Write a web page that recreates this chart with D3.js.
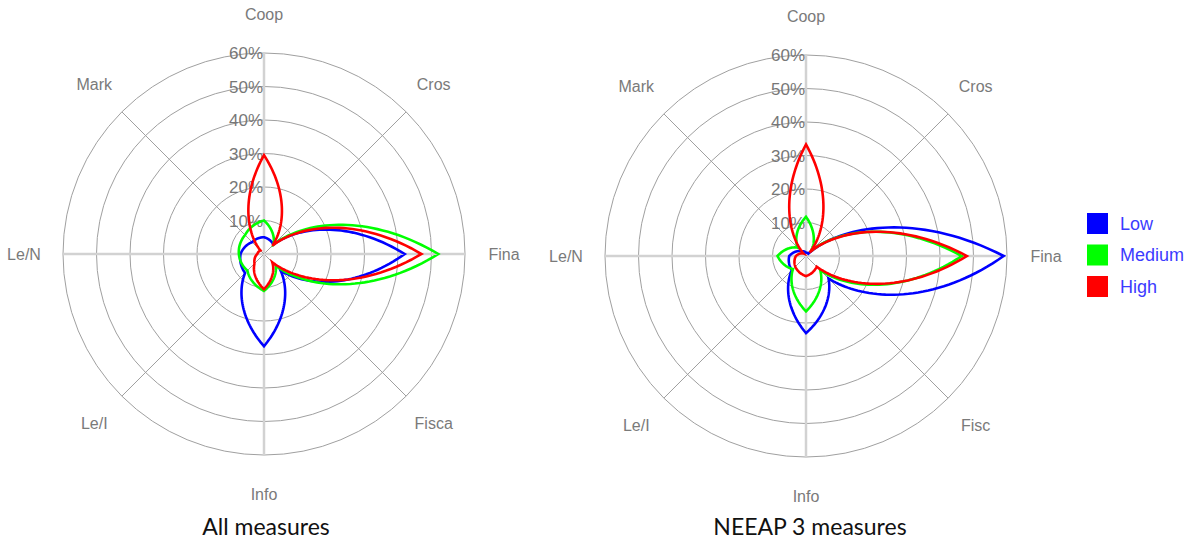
<!DOCTYPE html>
<html>
<head>
<meta charset="utf-8">
<script src="https://cdn.jsdelivr.net/npm/d3@7"></script>
<style>
  html, body { margin: 0; padding: 0; background: #ffffff; }
  svg { display: block; }
</style>
</head>
<body>
<svg id="chart" width="1188" height="545"></svg>
<script>
// ---------------- data ----------------
const categoriesAll = ["Coop", "Cros", "Fina", "Fisca", "Info", "Le/I", "Le/N", "Mark"];
const categoriesNeeap = ["Coop", "Cros", "Fina", "Fisc", "Info", "Le/I", "Le/N", "Mark"];
const tickValues = [10, 20, 30, 40, 50, 60];
const tickLabels = ["10%", "20%", "30%", "40%", "50%", "60%"];
const seriesNames = ["Low", "Medium", "High"];
const seriesColors = ["#0000ff", "#00ff00", "#ff0000"];

// All measures (% per category)
const allLow    = [5, 4, 42, 7, 27.5, 8, 7, 5];
const allMedium = [10, 4, 52, 5, 11, 7, 7.5, 8];
const allHigh   = [29.5, 3.5, 47, 3.5, 10.5, 4, 2, 1.5];

// NEEAP 3 measures (% per category)
const neeapLow    = [1, 1, 59, 9.5, 23, 6, 5, 2];
const neeapMedium = [11.7, 2, 46.5, 6, 16.5, 5.5, 8.5, 3.5];
const neeapHigh   = [33.3, 1.5, 48, 4.5, 6, 4.5, 3, 1];

const titleAll = "All measures";
const titleNeeap = "NEEAP 3 measures";

// ---------------- drawing ----------------
const svg = d3.select("#chart");
const R = 201;
const rScale = d3.scaleLinear().domain([0, 60]).range([0, R]);

// petal-shaped radial curve: sharp tips at each category, power-mean blend between them
function petalCurve(values) {
  const n = values.length, q = 0.6, steps = 40;
  const aScale = d3.scaleLinear().domain([0, n]).range([0, 2 * Math.PI]);
  const pts = [];
  for (let i = 0; i < n; i++) {
    const a = Math.pow(values[i], q), b = Math.pow(values[(i + 1) % n], q);
    for (let s = 0; s < steps; s++) {
      const t = s / steps;
      pts.push([aScale(i + t), Math.pow((1 - t) * a + t * b, 1 / q)]);
    }
  }
  return pts;
}

const line = d3.lineRadial()
  .angle(d => d[0])
  .radius(d => rScale(d[1]))
  .curve(d3.curveLinearClosed);

function drawRadar(cx, cy, categories, seriesList, title, titleX) {
  const g = svg.append("g").attr("transform", `translate(${cx},${cy})`);
  const angle = d3.scalePoint().domain(categories.concat(["__end"])).range([0, 2 * Math.PI]);

  // rings
  g.selectAll("circle.ring").data(tickValues).join("circle")
    .attr("class", "ring")
    .attr("r", d => rScale(d))
    .attr("fill", "none")
    .attr("stroke", "#a0a0a0")
    .attr("stroke-width", 1);

  // spokes
  g.selectAll("line.spoke").data(categories).join("line")
    .attr("class", "spoke")
    .attr("x1", 0).attr("y1", 0)
    .attr("x2", d => R * Math.sin(angle(d)))
    .attr("y2", d => -R * Math.cos(angle(d)))
    .attr("stroke", (d, i) => i % 2 === 0 ? "#d2d2d2" : "#a0a0a0")
    .attr("stroke-width", (d, i) => i % 2 === 0 ? 2.5 : 1);

  // tick labels
  g.selectAll("text.tick").data(tickValues).join("text")
    .attr("class", "tick")
    .attr("x", -1)
    .attr("y", d => -rScale(d))
    .attr("dy", "0.36em")
    .attr("text-anchor", "end")
    .attr("font-family", "'Liberation Sans', Arial, sans-serif")
    .attr("font-size", 17)
    .attr("fill", "#777777")
    .text((d, i) => tickLabels[i]);

  // axis labels
  const LR = 240;
  g.selectAll("text.axis").data(categories).join("text")
    .attr("class", "axis")
    .attr("x", d => LR * Math.sin(angle(d)))
    .attr("y", d => -LR * Math.cos(angle(d)))
    .attr("dy", "0.36em")
    .attr("text-anchor", "middle")
    .attr("font-family", "'Liberation Sans', Arial, sans-serif")
    .attr("font-size", 16)
    .attr("fill", "#7a7a7a")
    .text(d => d);

  // series
  g.selectAll("path.series").data(seriesList).join("path")
    .attr("class", "series")
    .attr("d", d => line(petalCurve(d)))
    .attr("fill", "none")
    .attr("stroke", (d, i) => seriesColors[i])
    .attr("stroke-width", 2.6)
    .attr("stroke-linejoin", "miter");

  // title
  svg.append("text")
    .attr("x", titleX)
    .attr("y", 535)
    .attr("text-anchor", "middle")
    .attr("font-family", "Lato, 'Open Sans', sans-serif")
    .attr("font-size", 23)
    .attr("fill", "#111")
    .text(title);
}

drawRadar(264, 254, categoriesAll, [allLow, allMedium, allHigh], titleAll, 266);
drawRadar(806, 256, categoriesNeeap, [neeapLow, neeapMedium, neeapHigh], titleNeeap, 810);

// legend
const legend = svg.append("g").attr("transform", "translate(1087,213)");
const ly = d3.scaleBand().domain(seriesNames).range([0, 94.5]);
legend.selectAll("rect").data(seriesNames).join("rect")
  .attr("x", 0)
  .attr("y", d => ly(d))
  .attr("width", 21)
  .attr("height", 21)
  .attr("fill", (d, i) => seriesColors[i]);
legend.selectAll("text").data(seriesNames).join("text")
  .attr("x", 33)
  .attr("y", d => ly(d) + 10.5)
  .attr("dy", "0.36em")
  .attr("font-family", "'Liberation Sans', Arial, sans-serif")
  .attr("font-size", 18)
  .attr("fill", "#3b3bff")
  .text(d => d);
</script>
</body>
</html>
